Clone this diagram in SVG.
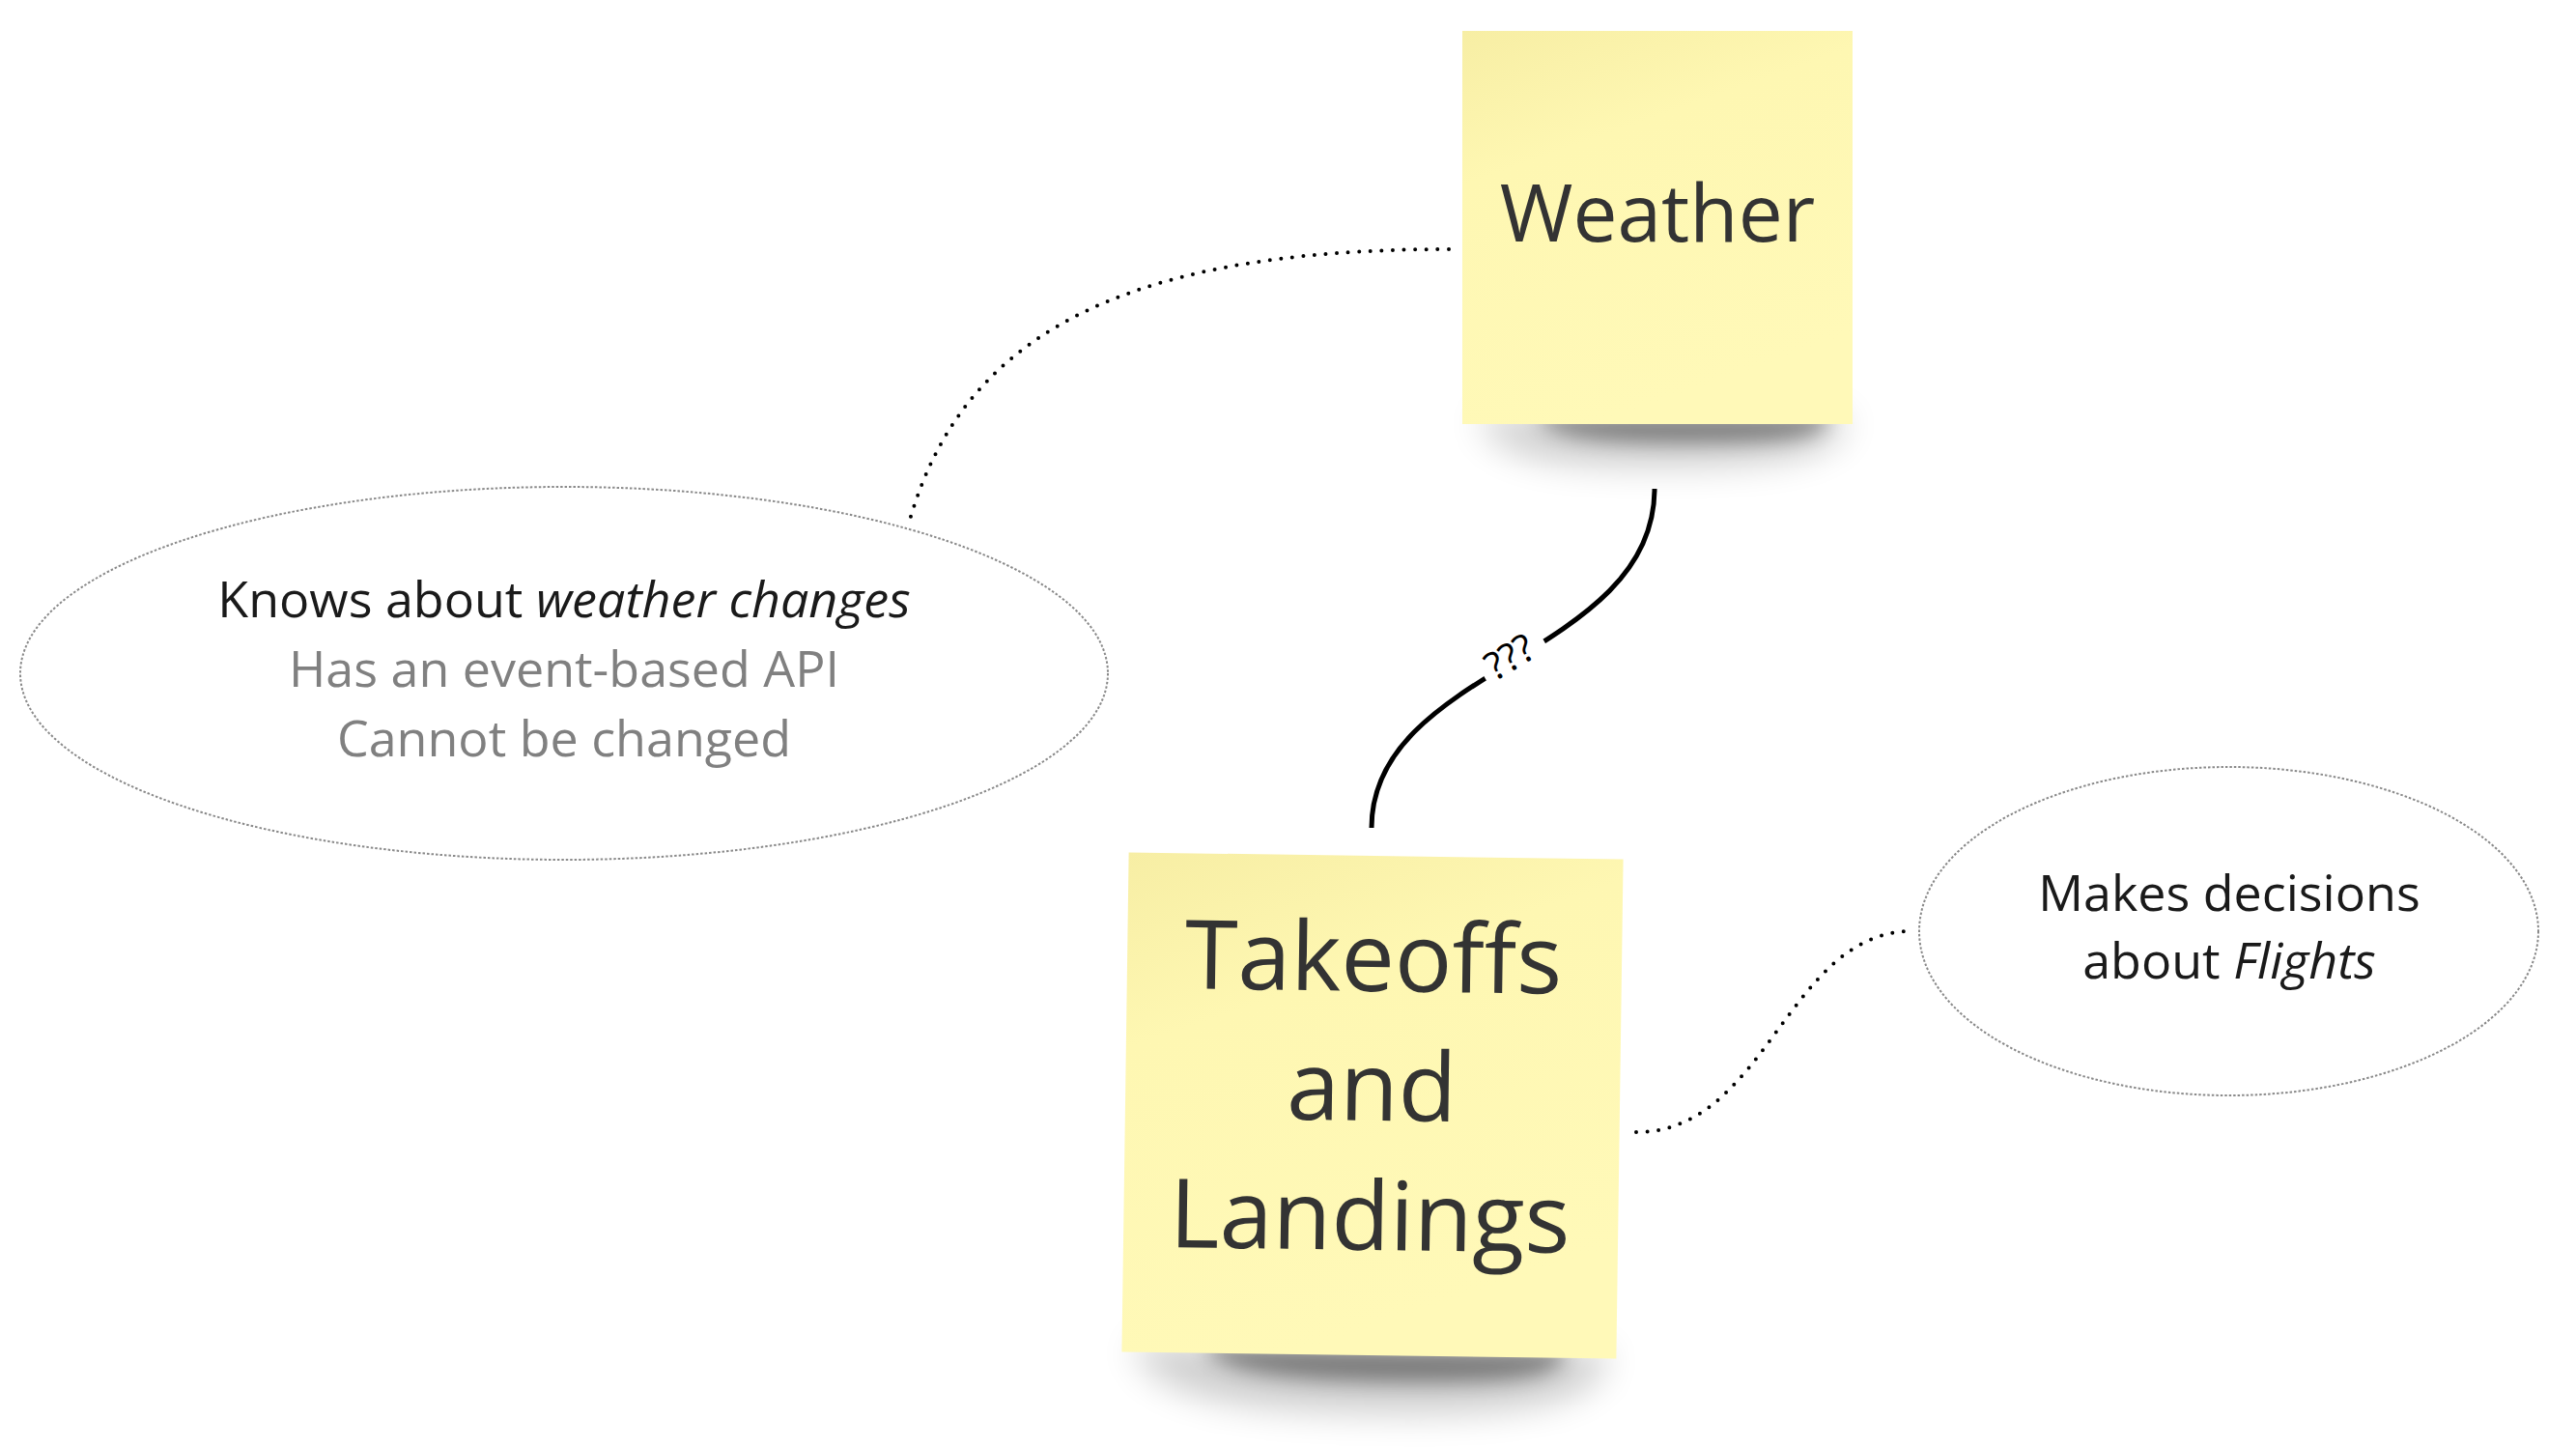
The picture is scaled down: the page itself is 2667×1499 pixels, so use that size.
<svg xmlns="http://www.w3.org/2000/svg" width="2667" height="1499" viewBox="0 0 2667 1499">
  <style>
    .note-text { font-family: "Open Sans", "Noto Sans", "Liberation Sans", sans-serif; fill: #333333; text-anchor: middle; }
    .bubble { fill: #ffffff; stroke: #8a8a8a; stroke-width: 2; stroke-dasharray: 2.5 2; }
    .bubble-text { font-family: "Open Sans", "Noto Sans", "Liberation Sans", sans-serif; text-anchor: middle; }
    .dark { fill: #1a1a1a; }
    .gray { fill: #808080; }
    .dotted { fill: none; stroke: #000000; stroke-width: 4; stroke-linecap: round; stroke-dasharray: 0 11.6; }
    .solid { fill: none; stroke: #000000; stroke-width: 5; }
    .shadow-soft { fill: #000000; opacity: 0.2; }
    .shadow-core { fill: #000000; opacity: 0.4; }
  </style>
  <defs>
    <linearGradient id="sticky" x1="0" y1="0" x2="0.35" y2="1">
      <stop offset="0" stop-color="#F7EEA4"/>
      <stop offset="0.35" stop-color="#FEF7B2"/>
      <stop offset="1" stop-color="#FFF9B8"/>
    </linearGradient>
    <filter id="blurSoft" x="-30%" y="-200%" width="160%" height="500%">
      <feGaussianBlur stdDeviation="18"/>
    </filter>
    <filter id="blurCore" x="-30%" y="-200%" width="160%" height="500%">
      <feGaussianBlur stdDeviation="10"/>
    </filter>
  </defs>
  <rect x="0" y="0" width="2667" height="1499" fill="#ffffff"/>

  <g id="connectors">
    <path class="dotted" d="M1500,258 C1150,258 995,355 942,538"/>
    <path class="dotted" d="M1694,1172 C1830,1172 1850,964 1980,964"/>
    <path class="solid" d="M1713,506 C1713,680 1420,690 1420,857"/>
    <g id="connector-label">
      <rect x="-36" y="-9" width="72" height="18" fill="#ffffff" transform="translate(1567,681) rotate(-30.3)"/>
      <text x="0" y="14" transform="translate(1563,680) rotate(-31)" font-family="'Open Sans', 'Noto Sans', sans-serif" font-size="40" fill="#000000" text-anchor="middle">???</text>
    </g>
  </g>

  <g id="note-weather">
    <path class="shadow-soft" filter="url(#blurSoft)" d="M1530,430 L1912,430 C1910,462 1880,482 1720,482 C1600,482 1545,472 1530,430 Z"/>
    <path class="shadow-core" filter="url(#blurCore)" d="M1590,430 L1895,430 C1890,452 1860,458 1750,458 C1650,458 1605,452 1590,430 Z"/>
    <rect x="1514" y="32" width="404" height="407" fill="url(#sticky)"/>
    <text class="note-text" x="1716" y="250" font-size="82">Weather</text>
  </g>

  <g id="note-takeoffs" transform="rotate(0.8 1421 1144.5)">
    <path class="shadow-soft" filter="url(#blurSoft)" d="M1175,1395 L1668,1395 C1665,1435 1630,1462 1440,1462 C1280,1462 1195,1448 1175,1395 Z"/>
    <path class="shadow-core" filter="url(#blurCore)" d="M1250,1395 L1625,1395 C1620,1422 1580,1430 1450,1430 C1330,1430 1265,1422 1250,1395 Z"/>
    <rect x="1165" y="886" width="512" height="517" fill="url(#sticky)"/>
    <text class="note-text" x="1420" y="1026" font-size="99">Takeoffs</text>
    <text class="note-text" x="1420" y="1160" font-size="99">and</text>
    <text class="note-text" x="1420" y="1294" font-size="99">Landings</text>
  </g>

  <g id="bubble-weather">
    <ellipse class="bubble" cx="584" cy="697" rx="563" ry="193"/>
    <text class="bubble-text dark" x="584" y="639" font-size="52">Knows about <tspan font-style="italic">weather changes</tspan></text>
    <text class="bubble-text gray" x="584" y="711" font-size="52">Has an event-based API</text>
    <text class="bubble-text gray" x="584" y="783" font-size="52">Cannot be changed</text>
  </g>

  <g id="bubble-takeoffs">
    <ellipse class="bubble" cx="2307.5" cy="964" rx="320.5" ry="170"/>
    <text class="bubble-text dark" x="2308" y="943" font-size="52">Makes decisions</text>
    <text class="bubble-text dark" x="2308" y="1013" font-size="52">about <tspan font-style="italic">Flights</tspan></text>
  </g>
</svg>
